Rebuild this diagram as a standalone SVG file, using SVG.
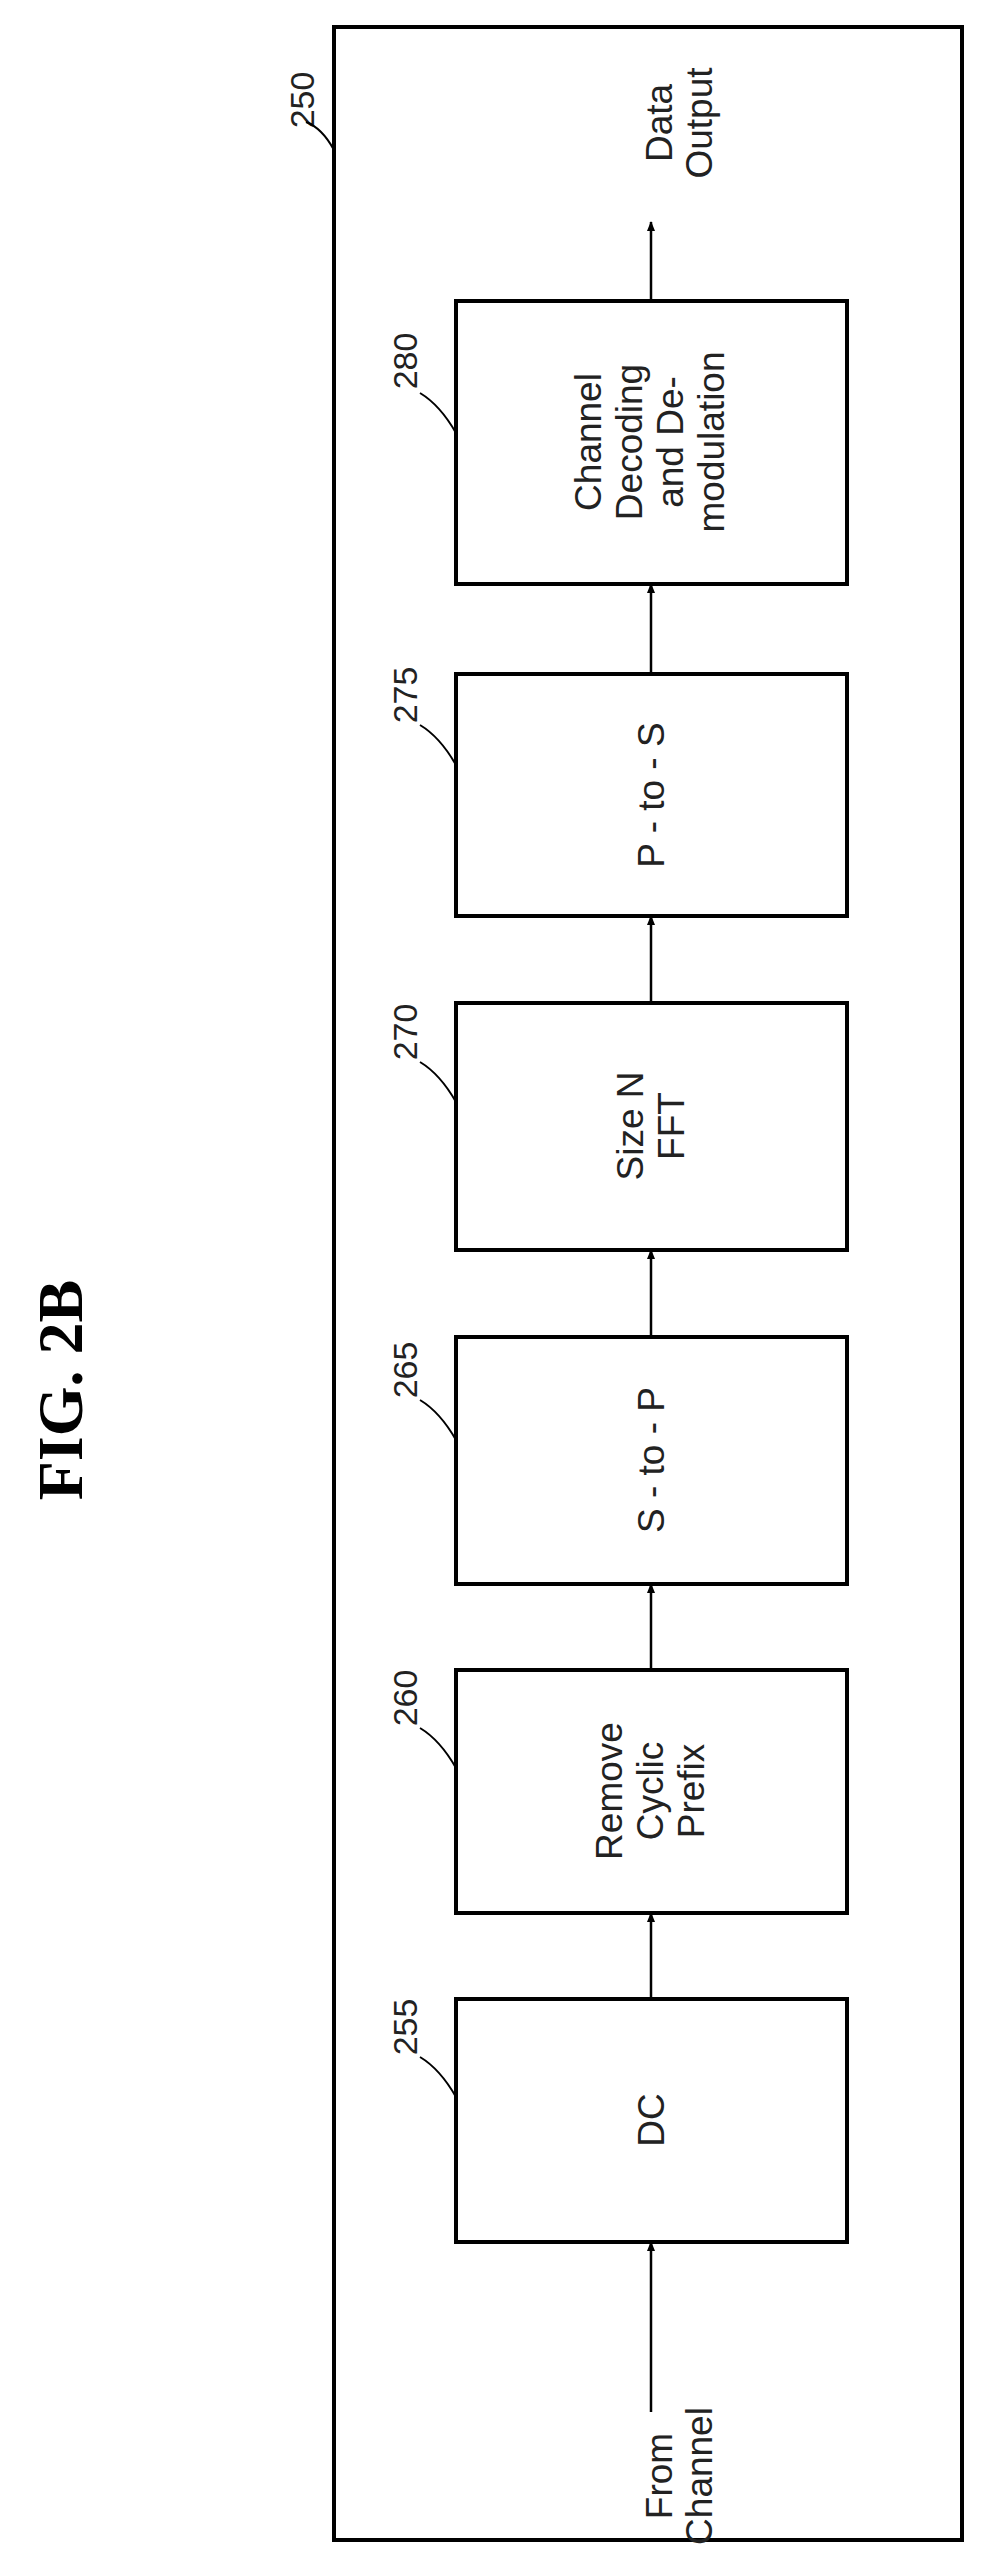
<svg xmlns="http://www.w3.org/2000/svg" width="987" height="2558" viewBox="0 0 987 2558">
<defs><marker id="ah" markerWidth="10" markerHeight="10" refX="9" refY="5" orient="auto" markerUnits="userSpaceOnUse"><path d="M0,1 L10,5 L0,9 Z" fill="#000"/></marker></defs>
<style>
.b{fill:#fff;stroke:#000;stroke-width:4}
.t{font-family:"Liberation Sans",Arial,sans-serif;font-size:37px;fill:#222;text-anchor:middle}
.n{font-family:"Liberation Sans",Arial,sans-serif;font-size:34px;fill:#222;text-anchor:middle}
.l{fill:none;stroke:#000;stroke-width:2}
.c{stroke:#000;stroke-width:2.5;marker-end:url(#ah)}
</style>
<rect width="987" height="2558" fill="#fff"/>
<text transform="translate(82,1390) rotate(-90)" font-family="Liberation Serif,serif" font-weight="bold" font-size="64" text-anchor="middle">FIG. 2B</text>
<g id="n250"><rect x="334" y="27" width="628" height="2513" class="b"/><text class="n" transform="translate(314,100) rotate(-90)">250</text><path class="l" d="M334,150 Q322,128 306,122"/></g>
<g id="n280"><rect x="456" y="301" width="391" height="283" class="b"/>
<text class="t" transform="translate(651,442) rotate(-90)"><tspan x="0" y="-50">Channel</tspan><tspan x="0" y="-9">Decoding</tspan><tspan x="0" y="32">and De-</tspan><tspan x="0" y="73">modulation</tspan></text>
<text class="n" transform="translate(417,361) rotate(-90)">280</text><path class="l" d="M456,433 Q440,405 420,393"/></g>
<g id="n275"><rect x="456" y="674" width="391" height="242" class="b"/>
<text class="t" transform="translate(651,795) rotate(-90)" dy="13">P - to - S</text>
<text class="n" transform="translate(417,695) rotate(-90)">275</text><path class="l" d="M456,765 Q440,737 420,725"/></g>
<g id="n270"><rect x="456" y="1003" width="391" height="247" class="b"/>
<text class="t" transform="translate(651,1126) rotate(-90)"><tspan x="0" y="-8">Size N</tspan><tspan x="0" y="33">FFT</tspan></text>
<text class="n" transform="translate(417,1032) rotate(-90)">270</text><path class="l" d="M456,1102 Q440,1074 420,1062"/></g>
<g id="n265"><rect x="456" y="1337" width="391" height="247" class="b"/>
<text class="t" transform="translate(651,1460) rotate(-90)" dy="13">S - to - P</text>
<text class="n" transform="translate(417,1370) rotate(-90)">265</text><path class="l" d="M456,1440 Q440,1412 420,1400"/></g>
<g id="n260"><rect x="456" y="1670" width="391" height="243" class="b"/>
<text class="t" transform="translate(651,1791) rotate(-90)"><tspan x="0" y="-29">Remove</tspan><tspan x="0" y="12">Cyclic</tspan><tspan x="0" y="53">Prefix</tspan></text>
<text class="n" transform="translate(417,1698) rotate(-90)">260</text><path class="l" d="M456,1768 Q440,1740 420,1728"/></g>
<g id="n255"><rect x="456" y="1999" width="391" height="243" class="b"/>
<text class="t" transform="translate(651,2120) rotate(-90)" dy="13">DC</text>
<text class="n" transform="translate(417,2027) rotate(-90)">255</text><path class="l" d="M456,2097 Q440,2069 420,2057"/></g>
<g id="io">
<text class="t" transform="translate(672,123) rotate(-90)"><tspan x="0" y="0">Data</tspan><tspan x="0" y="40">Output</tspan></text>
<text class="t" transform="translate(672,2476) rotate(-90)"><tspan x="0" y="0">From</tspan><tspan x="0" y="40">Channel</tspan></text>
</g>
<g id="connectors">
<line class="c" x1="651" y1="2412" x2="651" y2="2242"/>
<line class="c" x1="651" y1="1999" x2="651" y2="1913"/>
<line class="c" x1="651" y1="1670" x2="651" y2="1584"/>
<line class="c" x1="651" y1="1337" x2="651" y2="1250"/>
<line class="c" x1="651" y1="1003" x2="651" y2="916"/>
<line class="c" x1="651" y1="674" x2="651" y2="584"/>
<line class="c" x1="651" y1="301" x2="651" y2="222"/>
</g>
</svg>
